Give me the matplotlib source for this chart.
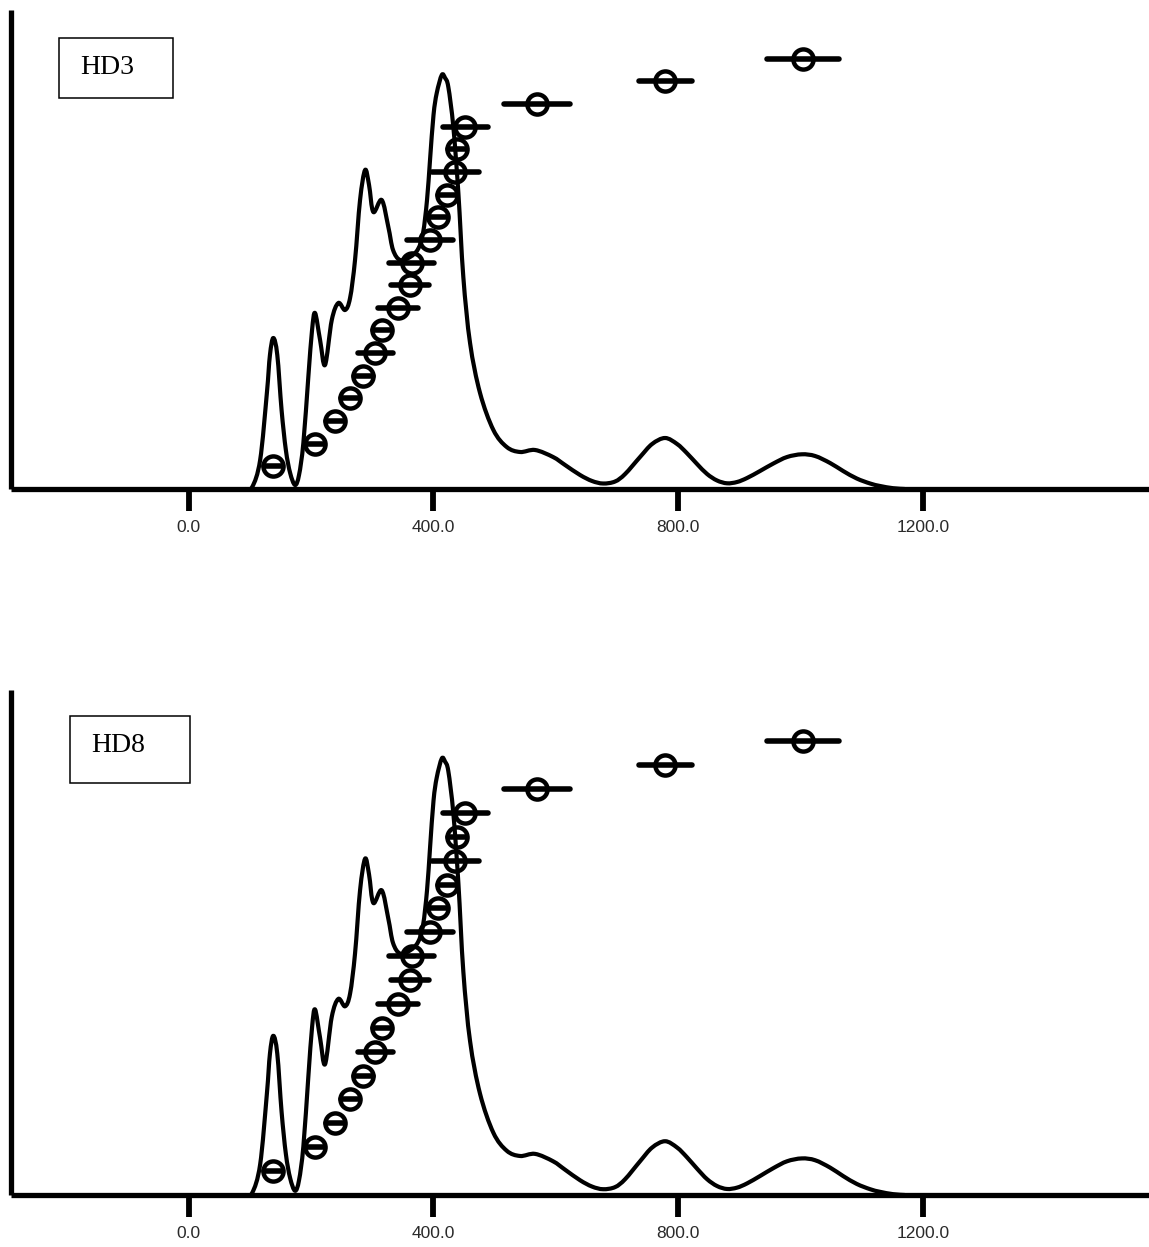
import matplotlib
matplotlib.use("Agg")
import matplotlib.pyplot as plt
from matplotlib.patches import Rectangle, PathPatch
from matplotlib.path import Path

# Age axis ticks
tick_values = [0, 400, 800, 1200]
tick_labels = ["0.0", "400.0", "800.0", "1200.0"]

# Probability density curve (age, relative density)
curve_age = [92, 104, 117, 128, 133, 138.5, 145, 152, 159, 166, 174, 180.5, 187.6,
             195.7, 201.8, 206.7, 214.9, 223, 234, 244.7, 255.7, 263.9, 272, 280.2,
             288.4, 294.9, 301.9, 315.6, 326.4, 334.1, 345.5, 361.9, 375, 383.1,
             389.6, 394.5, 400.2, 405.5, 413.7, 419.1, 424.4, 432.6, 440.8, 448.9,
             459.9, 476.2, 498, 519.8, 541.6, 566.1, 595.5, 615.1, 639.6, 659.2,
             677.2, 696.8, 713.2, 737.6, 757.3, 778.5, 798.1, 813.9, 830.7, 847.1,
             863.4, 879.7, 896.1, 912.4, 933.6, 955.4, 977.8, 1001.8, 1023.5, 1048,
             1069.3, 1091.6, 1113.4, 1129.7, 1150.9, 1170]
curve_density = [0, 2, 29, 96, 134, 151, 134, 79, 39, 16, 4, 14, 46,
                 112, 159, 176, 149, 124, 169, 186, 179, 191, 229, 289,
                 319, 304, 277, 289, 262, 239, 229, 232, 240, 256,
                 289, 329, 374, 396, 414, 411, 402, 362, 296, 212,
                 146, 96, 59, 42, 37, 39, 32, 24, 14, 8,
                 5.5, 7.5, 15, 32, 45, 51, 45, 36, 25, 15,
                 8.5, 5.7, 7, 11, 18, 25.5, 32, 34.7, 33, 26,
                 18, 10.5, 5.5, 3, 0.8, 0]

# Sorted ages with uncertainties, plotted against their rank
ages = [138.5, 206.7, 239.3, 263.8, 285.6, 304.7, 315.6, 342.8, 361.9, 364.6,
        394.5, 407.6, 421.8, 435.4, 438.2, 451.7, 568.9, 778.5, 1003.4]
age_err = [15, 15, 15, 15, 15, 28.6, 15, 32.7, 31, 36.8,
           37.6, 15, 15, 38.4, 15, 36.8, 53.9, 43.3, 58.8]
rank = [1, 2, 3, 4, 5, 6, 7, 8, 9, 10, 11, 12, 13, 14, 15, 16, 17, 18, 19]

samples = ["HD3", "HD8"]


def smooth_path(xs, ys):
    """Cubic Bezier path passing through every point (Catmull-Rom tangents)."""
    pts = list(zip(xs, ys))
    n = len(pts)
    verts = [pts[0]]
    codes = [Path.MOVETO]
    for i in range(n - 1):
        p0 = pts[i - 1] if i > 0 else pts[i]
        p1 = pts[i]
        p2 = pts[i + 1]
        p3 = pts[i + 2] if i + 2 < n else pts[i + 1]
        c1 = (p1[0] + (p2[0] - p0[0]) / 6.0, p1[1] + (p2[1] - p0[1]) / 6.0)
        c2 = (p2[0] - (p3[0] - p1[0]) / 6.0, p2[1] - (p3[1] - p1[1]) / 6.0)
        verts += [c1, c2, p2]
        codes += [Path.CURVE4, Path.CURVE4, Path.CURVE4]
    return Path(verts, codes)


W, H = 1149, 1247
fig = plt.figure(figsize=(W / 100, H / 100), dpi=100)

# panel geometry in pixels
panels = [
    dict(name=samples[0], top=10, bottom=489,
         box=(59, 38, 173, 98), text=(80, 68)),
    dict(name=samples[1], top=690, bottom=1195,
         box=(70, 716, 190, 783), text=(91, 746)),
]
left_px = 11

for p in panels:
    h = p["bottom"] - p["top"]
    ax = fig.add_axes([left_px / W, (H - p["bottom"]) / H,
                       (W - left_px) / W, h / H])
    ax.add_patch(PathPatch(smooth_path(curve_age, curve_density),
                           fill=False, ec="black", lw=3.0,
                           joinstyle="round", zorder=2))
    ax.set_xlim(-290, 1569)
    ax.set_ylim(0, 479)
    for s in ("top", "right"):
        ax.spines[s].set_visible(False)
    for s in ("left", "bottom"):
        ax.spines[s].set_linewidth(3.8)
        ax.spines[s].set_color("black")
        ax.spines[s].set_capstyle("butt")
    ax.set_yticks([])
    ax.set_xticks(tick_values)
    ax.set_xticklabels(tick_labels, fontfamily="Liberation Sans",
                       fontsize=12.5, color="#2a2a2a")
    ax.tick_params(axis="x", direction="out", length=16, width=4.2,
                   color="black", pad=6)

    ax2 = ax.twinx()
    ax2.set_ylim(0, 21.15)
    ax2.set_xlim(-290, 1569)
    ax2.axis("off")
    ax2.errorbar(ages, rank, xerr=age_err, fmt="o", ms=14.5,
                 mfc="none", mec="black", mew=3.2, ecolor="black",
                 elinewidth=4.0, capsize=0, zorder=3)
    for coll in ax2.collections:
        coll.set_capstyle("round")

    bx0, by0, bx1, by1 = p["box"]
    fx = lambda x: (x - left_px) / (W - left_px)
    fy = lambda y: (p["bottom"] - y) / h
    ax.add_patch(Rectangle((fx(bx0), fy(by1)), fx(bx1) - fx(bx0),
                           fy(by0) - fy(by1), transform=ax.transAxes,
                           fill=False, lw=1.1, ec="black", clip_on=False))
    tx, ty = p["text"]
    ax.text(fx(tx), fy(ty), p["name"], transform=ax.transAxes,
            fontfamily="Liberation Serif", fontsize=20, color="black",
            ha="left", va="center")

fig.savefig("out.png", dpi=100)
